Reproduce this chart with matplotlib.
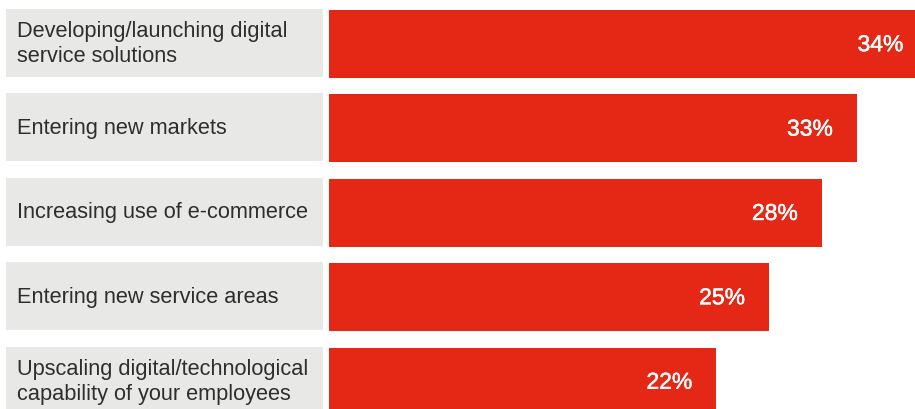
import matplotlib.pyplot as plt
import matplotlib.patheffects as pe

# categories top to bottom
categories = [
    "Developing/launching digital\nservice solutions",
    "Entering new markets",
    "Increasing use of e-commerce",
    "Entering new service areas",
    "Upscaling digital/technological\ncapability of your employees",
]
# bar lengths as drawn in the picture (top bar runs past the right edge)
bar_lengths = [34, 30, 28, 25, 22]
value_labels = ["34%", "33%", "28%", "25%", "22%"]

red = "#e52815"
grey = "#e8e8e7"
plt.rcParams["font.family"] = ["Liberation Sans", "DejaVu Sans"]

px = 17.6  # pixels per percent point
fig = plt.figure(figsize=(9.15, 4.10), dpi=100)
ax = fig.add_axes([0, 0, 1, 1])

y = list(range(len(categories)))
h = 68 / 84.4

# grey label boxes
ax.barh(y, [317 / px] * len(y), left=-323 / px, height=h, color=grey)
ax.barh([i + 1 / 84.4 for i in y], bar_lengths, height=h, color=red)

for i, cat in enumerate(categories):
    ax.text(-312 / px, i, cat, ha="left", va="center", fontsize=15.7,
            color="#2e2e2e", linespacing=1.25)
for i, (v, lab) in enumerate(zip(bar_lengths, value_labels)):
    ax.text(v - 24 / px, i + 0.02, lab, ha="right", va="center", fontsize=16.5,
            color="white",
            path_effects=[pe.withStroke(linewidth=0.35, foreground="white")])

ax.set_xlim(-329 / px, 586 / px)
ax.set_ylim(4 + 28.5 / 84.4, -44 / 84.4)
ax.axis("off")

fig.savefig("out.png", dpi=100)
